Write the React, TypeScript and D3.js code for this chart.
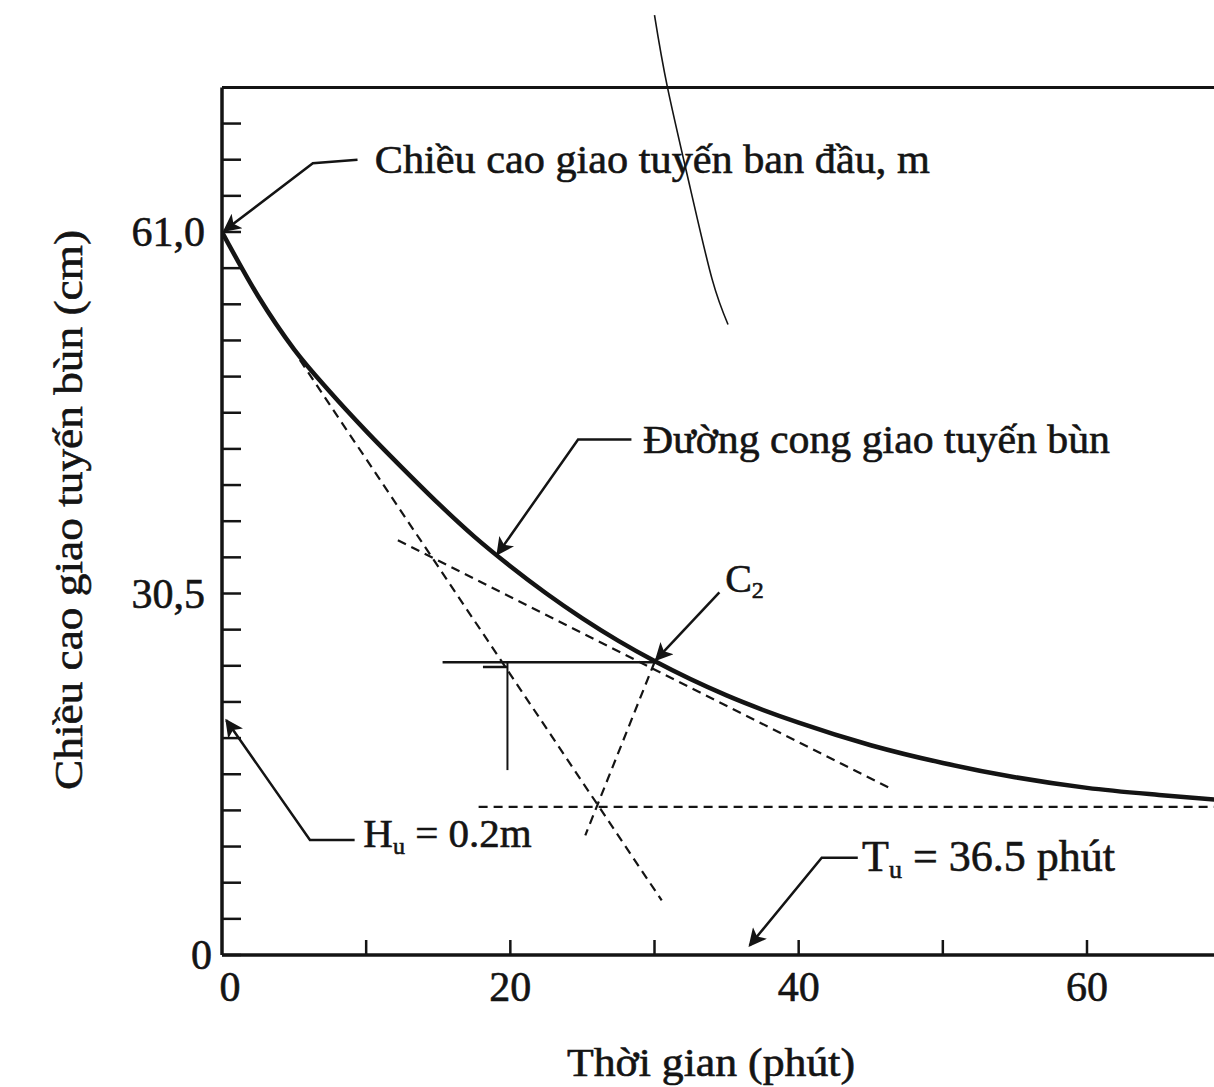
import React from "react";
import * as d3 from "d3";

// settling curve (time in minutes, interface height in cm)
const timeMin = [0, 2.5, 5, 7.5, 10, 12.5, 15, 17.5, 20, 22.5, 25, 27.5, 30, 35, 40, 45, 50, 55, 60, 65, 69];
const heightCm = [61.0, 55.6, 51.1, 47.5, 44.2, 41.1, 38.1, 35.3, 32.8, 30.5, 28.4, 26.5, 24.8, 21.9, 19.6, 17.7, 16.2, 15.0, 14.1, 13.5, 13.1];

// construction lines [t, h]
const tangentStart: [number, number][] = [[5.4, 50.2], [30.5, 4.6]];
const tangentC2: [number, number][] = [[12.2, 35.0], [46.3, 14.1]];
const c2Drop: [number, number][] = [[30.0, 24.7], [25.2, 10.1]];
const huLevel: [number, number][] = [[17.8, 12.5], [68.8, 12.5]];
const c2Level: [number, number][] = [[15.3, 24.7], [30.0, 24.7]];
const c2Stub: [number, number][] = [[18.1, 24.3], [19.8, 24.3]];
const tuDrop: [number, number][] = [[19.8, 24.7], [19.8, 15.6]];
const penStroke: [number, number][] = [[30.0, 79.3], [30.9, 73.2], [32.5, 64.6], [34.0, 57.0], [35.1, 53.2]];

// annotation arrows: start -> elbow -> tip, in data units
const arrowInitial: [number, number][] = [[9.4, 67.1], [6.3, 66.8], [0.15, 61.1]];
const arrowCurve: [number, number][] = [[28.4, 43.5], [24.7, 43.5], [19.1, 33.8]];
const arrowC2: [number, number][] = [[34.5, 30.6], [30.1, 24.9]];
const arrowHu: [number, number][] = [[9.2, 9.7], [6.1, 9.7], [0.3, 19.8]];
const arrowTu: [number, number][] = [[44.1, 8.2], [41.6, 8.2], [36.6, 0.8]];

const xTicks = [10, 20, 30, 40, 50, 60];
const xTickLabels = [0, 20, 40, 60];
const yTicks = d3.range(0, 73.3, 3.05);
const yTickLabels: [number, string][] = [[0, "0"], [30.5, "30,5"], [61.0, "61,0"]];

const W = 1214;
const H = 1087;
const ink = "#141414";
const font = "'Liberation Serif', 'Times New Roman', serif";

export default function App() {
  const x = d3.scaleLinear().domain([0, 60]).range([222, 1087]);
  const y = d3.scaleLinear().domain([0, 61]).range([955, 232]);
  const yTop = y(73.2);

  const line = d3.line<[number, number]>().x(d => x(d[0])).y(d => y(d[1]));
  const curve = d3
    .line<number>()
    .x((_, i) => x(timeMin[i]))
    .y(d => y(d))
    .curve(d3.curveMonotoneX);
  const pen = d3.line<[number, number]>().x(d => x(d[0])).y(d => y(d[1])).curve(d3.curveNatural);

  const dash = { stroke: ink, strokeWidth: 2.2, strokeDasharray: "9 6", fill: "none" };
  const txt = { fontFamily: font, fill: ink, stroke: ink, strokeWidth: 0.6 };

  return (
    <svg width={W} height={H} style={{ position: "absolute", left: 0, top: 0, background: "#fff" }}>
      <defs>
        <marker id="head" viewBox="0 0 10 10" refX="9" refY="5" markerWidth="24" markerHeight="18"
          markerUnits="userSpaceOnUse" orient="auto">
          <path d="M0,0 L10,5 L0,10 L2.5,5 Z" fill={ink} />
        </marker>
        <clipPath id="plot">
          <rect x={x(0)} y={0} width={W - x(0)} height={y(0)} />
        </clipPath>
      </defs>

      {/* frame */}
      <line x1={x(0)} x2={W} y1={yTop} y2={yTop} stroke={ink} strokeWidth={3} />
      <line x1={x(0)} x2={x(0)} y1={yTop} y2={y(0)} stroke={ink} strokeWidth={3.5} />
      <line x1={x(0)} x2={W} y1={y(0)} y2={y(0)} stroke={ink} strokeWidth={3.5} />

      {/* ticks */}
      {yTicks.map(v => (
        <line key={"yt" + v} x1={x(0)} x2={x(0) + 19} y1={y(v)} y2={y(v)} stroke={ink} strokeWidth={2.5} />
      ))}
      {xTicks.map(v => (
        <line key={"xt" + v} x1={x(v)} x2={x(v)} y1={y(0)} y2={y(0) - 15} stroke={ink} strokeWidth={2.5} />
      ))}

      {/* tick labels */}
      {yTickLabels.map(([v, s]) => (
        <text key={"yl" + v} x={x(0) - (v === 0 ? 10 : 17)} y={y(v) + 14} textAnchor="end"
          fontSize={42} {...txt}>{s}</text>
      ))}
      {xTickLabels.map(v => (
        <text key={"xl" + v} x={x(v) + (v === 0 ? 8 : 0)} y={1001} textAnchor="middle"
          fontSize={42} {...txt}>{v}</text>
      ))}

      {/* axis titles */}
      <text x={711} y={1076} textAnchor="middle" fontSize={40} {...txt}
        textLength={288} lengthAdjust="spacingAndGlyphs">Thời gian (phút)</text>
      <text transform="translate(82,510) rotate(-90)" textAnchor="middle" fontSize={40} {...txt}
        textLength={560} lengthAdjust="spacingAndGlyphs">Chiều cao giao tuyến bùn (cm)</text>

      {/* construction lines */}
      <g clipPath="url(#plot)">
        <path d={line(tangentStart) || ""} {...dash} />
        <path d={line(tangentC2) || ""} {...dash} />
        <path d={line(c2Drop) || ""} {...dash} />
        <path d={line(huLevel) || ""} {...dash} />
        <path d={line(c2Level) || ""} stroke={ink} strokeWidth={2.5} fill="none" />
        <path d={line(c2Stub) || ""} stroke={ink} strokeWidth={2.5} fill="none" />
        <path d={line(tuDrop) || ""} stroke={ink} strokeWidth={2} fill="none" />
        <path d={curve(heightCm) || ""} stroke={ink} strokeWidth={4.5} fill="none" />
      </g>

      {/* stray pen mark on the scan */}
      <path d={pen(penStroke) || ""} stroke={ink} strokeWidth={1.6} fill="none" />

      {/* annotation arrows */}
      {[arrowInitial, arrowCurve, arrowC2, arrowHu, arrowTu].map((a, i) => (
        <path key={"ar" + i} d={line(a) || ""} stroke={ink} strokeWidth={2.5} fill="none" markerEnd="url(#head)" />
      ))}

      {/* annotation labels */}
      <text x={x(10.6)} y={173} fontSize={40} {...txt}
        textLength={555} lengthAdjust="spacingAndGlyphs">Chiều cao giao tuyến ban đầu, m</text>
      <text x={x(29.2)} y={453} fontSize={40} {...txt}
        textLength={467} lengthAdjust="spacingAndGlyphs">Đường cong giao tuyến bùn</text>
      <text x={x(34.9)} y={592} fontSize={40} {...txt}>
        C<tspan fontSize={24} dy={6}>2</tspan>
      </text>
      <text x={x(9.8)} y={847} fontSize={41} {...txt}>
        H<tspan fontSize={24} dy={7}>u</tspan><tspan dy={-7}> = 0.2m</tspan>
      </text>
      <text x={x(44.4)} y={871} fontSize={44} {...txt}>
        T<tspan fontSize={26} dy={7}>u</tspan><tspan dy={-7}> = 36.5 phút</tspan>
      </text>
    </svg>
  );
}
